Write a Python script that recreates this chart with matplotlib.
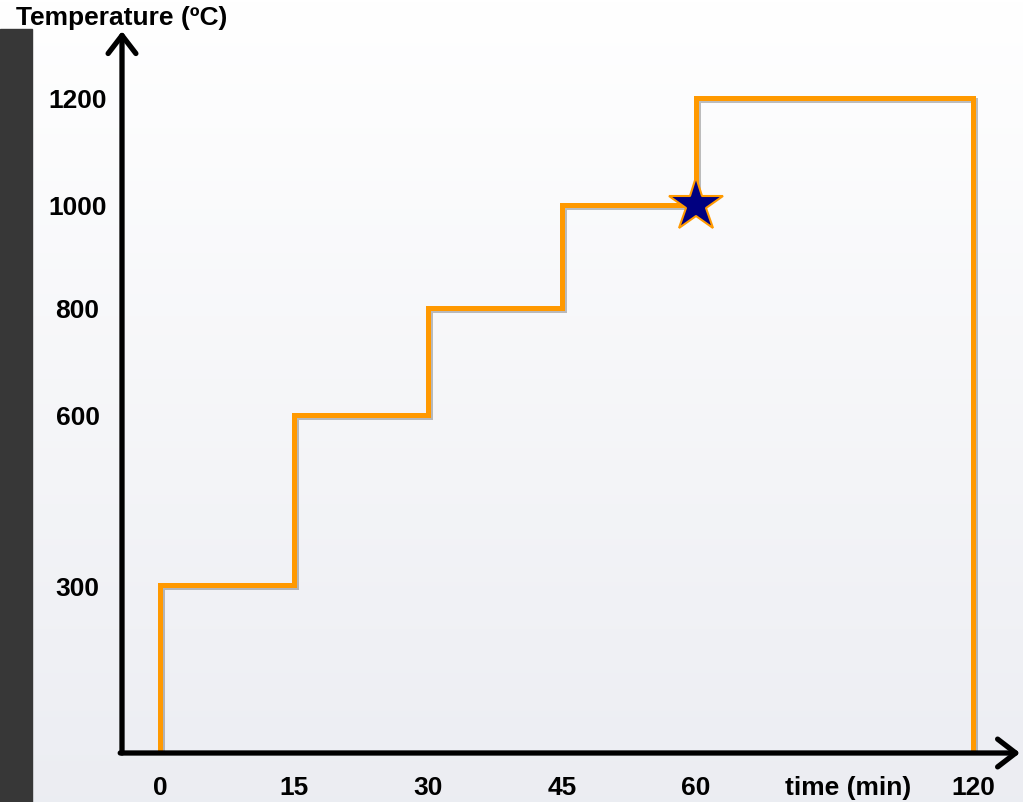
import numpy as np
import matplotlib

matplotlib.use("Agg")
import matplotlib.pyplot as plt
import matplotlib.patheffects as pe
from matplotlib.patches import Rectangle

# heating schedule: plateau i starts at STEP_TIMES[i] and holds STEP_TEMPS[i]
STEP_TIMES = [0, 15, 30, 45, 60, 120]
STEP_TEMPS = [300, 600, 800, 1000, 1200]
STAR_TIME = 60
STAR_TEMP = 1000

X_TICKS = [0, 15, 30, 45, 60, 120]
X_LABELS = ["0", "15", "30", "45", "60", "120"]
Y_TICKS = [300, 600, 800, 1000, 1200]
Y_LABELS = ["300", "600", "800", "1000", "1200"]

# the sketch is not drawn to scale: piecewise anchors (value -> screen units)
X_ANCHOR_VAL = [-60, 0, 60, 120, 240]
X_ANCHOR_POS = [-4, 0, 4, 6.07, 10.21]
Y_ANCHOR_VAL = [-500, 0, 300, 600, 800, 1000, 1200, 2000]
Y_ANCHOR_POS = [-276.5, 0, 166, 336, 443, 546, 653, 1081]

ORANGE = "#ff9900"
FONT = "Liberation Sans"
FS = 19


def x_fwd(v):
    return np.interp(v, X_ANCHOR_VAL, X_ANCHOR_POS)


def x_inv(t):
    return np.interp(t, X_ANCHOR_POS, X_ANCHOR_VAL)


def y_fwd(v):
    return np.interp(v, Y_ANCHOR_VAL, Y_ANCHOR_POS)


def y_inv(t):
    return np.interp(t, Y_ANCHOR_POS, Y_ANCHOR_VAL)


fig = plt.figure(figsize=(10.23, 8.03), dpi=100)

# background: light vertical gradient plus dark strip on the left
bg = fig.add_axes([0, 0, 1, 1], zorder=-10)
grad = np.linspace(0, 1, 256).reshape(-1, 1)
top = np.array([1.0, 1.0, 1.0])
bottom = np.array([0.925, 0.93, 0.95])
img = top + grad[..., None] * (bottom - top)
bg.imshow(img, aspect="auto", extent=[0, 1, 0, 1], origin="upper")
bg.add_patch(Rectangle((0, 0), 32 / 1023, 773 / 803, transform=bg.transAxes,
                       color="#373737", zorder=2))
bg.set_xlim(0, 1)
bg.set_ylim(0, 1)
bg.axis("off")

ax = fig.add_axes([122 / 1023, 49 / 803, 898 / 1023, 719 / 803])
ax.patch.set_alpha(0)
ax.set_xscale("function", functions=(x_fwd, x_inv))
ax.set_yscale("function", functions=(y_fwd, y_inv))
ax.set_xlim(-4.25, 130.1)
ax.set_ylim(-3.6, 1319.6)

xs = [STEP_TIMES[0]] + STEP_TIMES + [STEP_TIMES[-1]]
ys = [0] + STEP_TEMPS + [STEP_TEMPS[-1], 0]
ax.step(xs, ys, where="post", color=ORANGE, lw=3.6, solid_joinstyle="miter",
        path_effects=[pe.SimpleLineShadow(offset=(1.5, -1.5), alpha=0.25), pe.Normal()],
        zorder=3)
ax.plot(STAR_TIME, STAR_TEMP, marker="*", ms=41, mfc="#000080", mec=ORANGE,
        mew=1.5, zorder=5)

for s in ax.spines.values():
    s.set_visible(False)

arrow = dict(arrowstyle="->,head_length=0.65,head_width=0.5", lw=3.8,
             color="black", shrinkA=0, shrinkB=0, mutation_scale=20)
ax.annotate("", xy=(0, 1.004), xytext=(0, 0), xycoords="axes fraction", arrowprops=arrow)
ax.annotate("", xy=(1, 0), xytext=(-0.002, 0), xycoords="axes fraction", arrowprops=arrow)

ax.set_xticks(X_TICKS, X_LABELS)
ax.set_yticks(Y_TICKS, Y_LABELS)
ax.minorticks_off()
ax.tick_params(length=0)
ax.tick_params(axis="x", pad=16)
ax.tick_params(axis="y", pad=32)
for lab in ax.get_xticklabels() + ax.get_yticklabels():
    lab.set_fontfamily(FONT)
    lab.set_fontweight("bold")
    lab.set_fontsize(FS)
for lab in ax.get_yticklabels():
    lab.set_horizontalalignment("center")

ax.annotate("time (min)", xy=(93, 0), xycoords=("data", "axes fraction"),
            xytext=(0, -16), textcoords="offset points", ha="center", va="top",
            fontsize=FS, fontweight="bold", fontfamily=FONT)
ax.annotate("Temperature (ºC)", xy=(0, 1), xycoords="axes fraction",
            xytext=(0, 12), textcoords="offset points", ha="center", va="center",
            fontsize=FS, fontweight="bold", fontfamily=FONT)

fig.savefig("out.png", dpi=100)
